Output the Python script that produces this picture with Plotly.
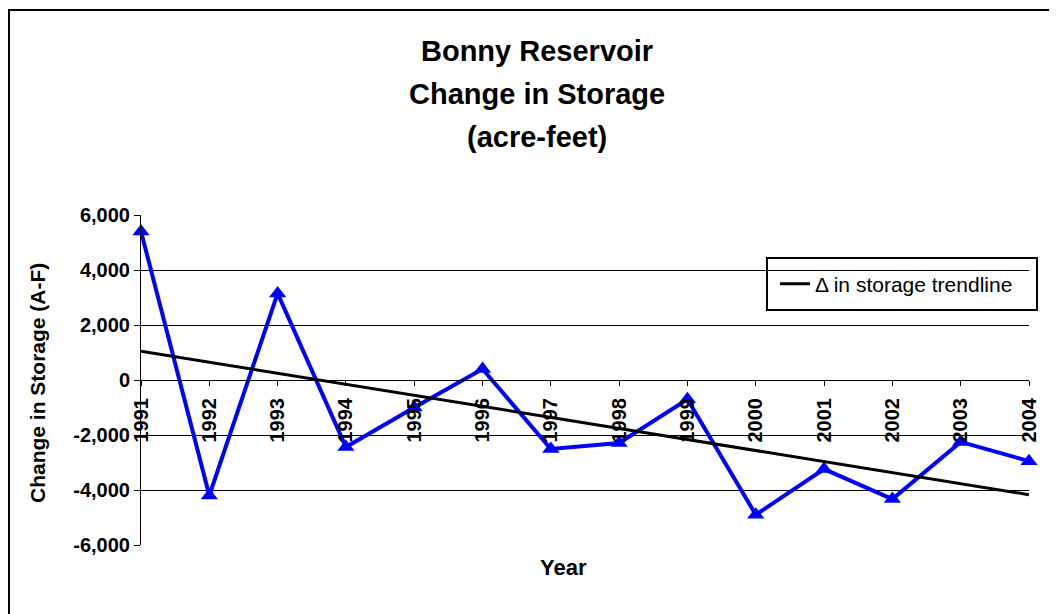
import numpy as np
import plotly.graph_objects as go

# ---- data ----
years = list(range(1991, 2005))
change_af = [5400, -4200, 3150, -2440, -1000, 400, -2510, -2290, -700,
             -4900, -3240, -4330, -2250, -2950]
y_tick_vals = [-6000, -4000, -2000, 0, 2000, 4000, 6000]
y_tick_text = ["-6,000", "-4,000", "-2,000", "0", "2,000", "4,000", "6,000"]
dark_grid = [-4000, -2000, 2000, 4000]
title_lines = ["Bonny Reservoir", "Change in Storage", "(acre-feet)"]
trend_name = "\u0394 in storage trendline"

# linear trendline (least squares fit of the series)
slope, intercept = np.polyfit(years, change_af, 1)
trend_vals = [slope * yr + intercept for yr in years]

OFF = 8  # page body margin
W, H = 1057 - OFF, 614 - OFF
ML, MR, MT, MB = 141 - OFF, 28, 215 - OFF, 69
PW, PH = W - ML - MR, H - MT - MB


def px(xs):
    return (xs - OFF - ML) / PW


def py(ys):
    return (H - MB - (ys - OFF)) / PH


FONT = "Liberation Sans, Arial, sans-serif"

fig = go.Figure()
fig.add_trace(go.Scatter(
    x=years, y=change_af, mode="lines+markers",
    line=dict(color="#0000FF", width=4),
    marker=dict(symbol="triangle-up", size=15, color="#0000FF"),
    showlegend=False, cliponaxis=False, name="Change in storage"))
fig.add_trace(go.Scatter(
    x=years, y=trend_vals, mode="lines", yaxis="y2",
    line=dict(color="#000000", width=3),
    showlegend=True, cliponaxis=False, name=trend_name))

shapes = []
# legend box
shapes.append(dict(type="rect", xref="paper", yref="paper",
                   x0=px(767), x1=px(1037), y0=py(310), y1=py(258),
                   line=dict(color="#000000", width=2), fillcolor="rgba(0,0,0,0)"))
# chart outer border (open at right/bottom edges)
shapes.append(dict(type="rect", xref="paper", yref="paper",
                   x0=px(9), x1=px(1080), y0=py(640), y1=py(10),
                   line=dict(color="#000000", width=2), fillcolor="rgba(0,0,0,0)"))

annotations = []
for txt, yc in zip(title_lines, [51, 94, 137]):
    annotations.append(dict(text=txt, xref="paper", yref="paper", x=px(537), y=py(yc),
                            xanchor="center", yanchor="middle", showarrow=False,
                            font=dict(family=FONT, size=29, color="#000", weight="bold")))
annotations.append(dict(text="Change in Storage (A-F)", xref="paper", yref="paper",
                        x=px(37), y=py(383), textangle=-90, xanchor="center", yanchor="middle",
                        showarrow=False,
                        font=dict(family=FONT, size=21, color="#000", weight="bold")))
annotations.append(dict(text="Year", xref="paper", yref="paper", x=px(563), y=py(567),
                        xanchor="center", yanchor="middle", showarrow=False,
                        font=dict(family=FONT, size=22, color="#000", weight="bold")))

fig.update_layout(
    width=W, height=H,
    margin=dict(l=ML, r=MR, t=MT, b=MB),
    paper_bgcolor="#FFFFFF", plot_bgcolor="#FFFFFF",
    font=dict(family=FONT, color="#000"),
    xaxis=dict(range=[1991, 2004], tickvals=years, ticktext=[str(y) for y in years],
               tickangle=-90, ticks="outside", ticklen=5, tickcolor="#000",
               ticklabelstandoff=4,
               showline=True, linecolor="#000", linewidth=1,
               anchor="free", position=0.5, showgrid=False, zeroline=False,
               tickfont=dict(family=FONT, size=20, color="#000", weight="bold")),
    yaxis=dict(range=[-6000, 6000], tickvals=y_tick_vals, ticktext=y_tick_text,
               ticks="outside", ticklen=6, tickcolor="#000",
               showline=True, linecolor="#000", linewidth=1,
               showgrid=True, gridcolor="#E3E3E3", gridwidth=1, zeroline=False,
               tickfont=dict(family=FONT, size=20, color="#000", weight="bold")),
    yaxis2=dict(range=[-6000, 6000], overlaying="y", side="left", anchor="x",
                tickvals=dark_grid, showticklabels=False, ticks="",
                showline=False, showgrid=True, gridcolor="#000000", gridwidth=1,
                zeroline=False),
    legend=dict(x=px(775), y=py(284), xanchor="left", yanchor="middle",
                bgcolor="rgba(0,0,0,0)", borderwidth=0,
                font=dict(family=FONT, size=21, color="#000")),
    shapes=shapes, annotations=annotations,
)

fig.write_html("out.html")
